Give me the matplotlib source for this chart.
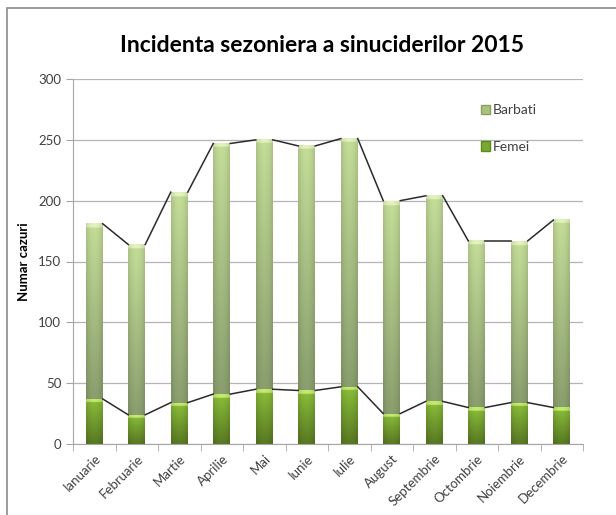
import numpy as np
import matplotlib.pyplot as plt
from matplotlib.patches import Rectangle

# Data
luni = ['Ianuarie', 'Februarie', 'Martie', 'Aprilie', 'Mai', 'Iunie',
        'Iulie', 'August', 'Septembrie', 'Octombrie', 'Noiembrie', 'Decembrie']
femei = [37, 24, 34, 41, 45, 44, 47, 25, 35, 30, 34, 30]
total = [181, 164, 207, 247, 250, 245, 251, 200, 204, 167, 167, 184]
barbati = [t - f for t, f in zip(total, femei)]

plt.rcParams['font.family'] = ['Lato', 'DejaVu Sans']

fig = plt.figure(figsize=(6.16, 5.15), dpi=100)
ax = fig.add_axes([73 / 616, 1 - 444 / 515, 510 / 616, 365 / 515])

x = np.arange(len(luni))
w = 0.4


def lerp(c0, c1, t):
    c0 = np.array(c0) / 255.0
    c1 = np.array(c1) / 255.0
    return c0[None, :] * (1 - t[:, None]) + c1[None, :] * t[:, None]


def gradient_bar(xc, y0, y1, bottom_c, top_c, cap_c):
    ys = np.linspace(y0, y1, 200)
    t = (ys - y0) / max(y1 - y0, 1e-9)
    col = lerp(bottom_c, top_c, t)
    cap = (y1 - ys) < 3.0
    col[cap] = np.array(cap_c) / 255.0
    # horizontal shading: darker edges
    xs = np.linspace(-1, 1, 40)
    shade = 1 - 0.12 * xs ** 2
    img = col[:, None, :] * shade[None, :, None]
    img = np.clip(img, 0, 1)
    im = ax.imshow(img, extent=[xc - w / 2, xc + w / 2, y0, y1], origin='lower',
                   aspect='auto', zorder=2, interpolation='bilinear')
    return im


for i in x:
    gradient_bar(i, 0, femei[i], (88, 120, 34), (140, 192, 58), (196, 234, 110))
    gradient_bar(i, femei[i], total[i], (138, 158, 110), (196, 222, 152), (228, 242, 190))

# series lines between bars
for series in (femei, total):
    for i in range(len(luni) - 1):
        ax.plot([i + w / 2, i + 1 - w / 2], [series[i], series[i + 1]],
                color='#2a2a2a', lw=1.1, zorder=3)

ax.set_xlim(-0.5, len(luni) - 0.5)
ax.set_ylim(0, 300)
ax.set_yticks(np.arange(0, 301, 50))
ax.yaxis.grid(True, color='#b4b4b4', lw=0.9)
ax.set_axisbelow(True)

for s in ('top', 'right'):
    ax.spines[s].set_visible(False)
ax.spines['left'].set_color('#a6a6a6')
ax.spines['bottom'].set_color('#a6a6a6')

ax.set_xticks(x)
ax.set_xticklabels(luni, rotation=45, ha='right', rotation_mode='anchor',
                   fontsize=9.5, color='#404040')
ax.tick_params(axis='x', which='major', length=0, pad=6)
ax.set_xticks(np.arange(-0.5, len(luni), 1), minor=True)
ax.tick_params(axis='x', which='minor', length=5, color='#a6a6a6')
ax.tick_params(axis='y', length=5, color='#a6a6a6', labelsize=9.5, labelcolor='#404040')

ax.set_ylabel('Numar cazuri', fontsize=9.5, fontweight='bold', labelpad=6)

fig.text(0.523, 1 - 46 / 515, 'Incidenta sezoniera a sinuciderilor 2015',
         ha='center', va='center', fontsize=16.5, fontweight='bold')

# legend
h1 = Rectangle((0, 0), 1, 1, facecolor='#a8c47c', edgecolor='#8aa060')
h2 = Rectangle((0, 0), 1, 1, facecolor='#78a830', edgecolor='#5c8a20')
ax.legend([h1, h2], ['Barbati', 'Femei'], loc='upper left',
          bbox_to_anchor=(0.775, 0.965), frameon=False, fontsize=10,
          labelspacing=1.75, handlelength=0.7, handleheight=0.7,
          handletextpad=0.2, labelcolor='#404040')

# outer chart border
fig.add_artist(Rectangle((7 / 616, -0.05), 1.2, 1 - 8 / 515 + 0.05,
                         transform=fig.transFigure, fill=False,
                         edgecolor='#8c8c8c', lw=1.2))

fig.savefig('out.png', dpi=100)
